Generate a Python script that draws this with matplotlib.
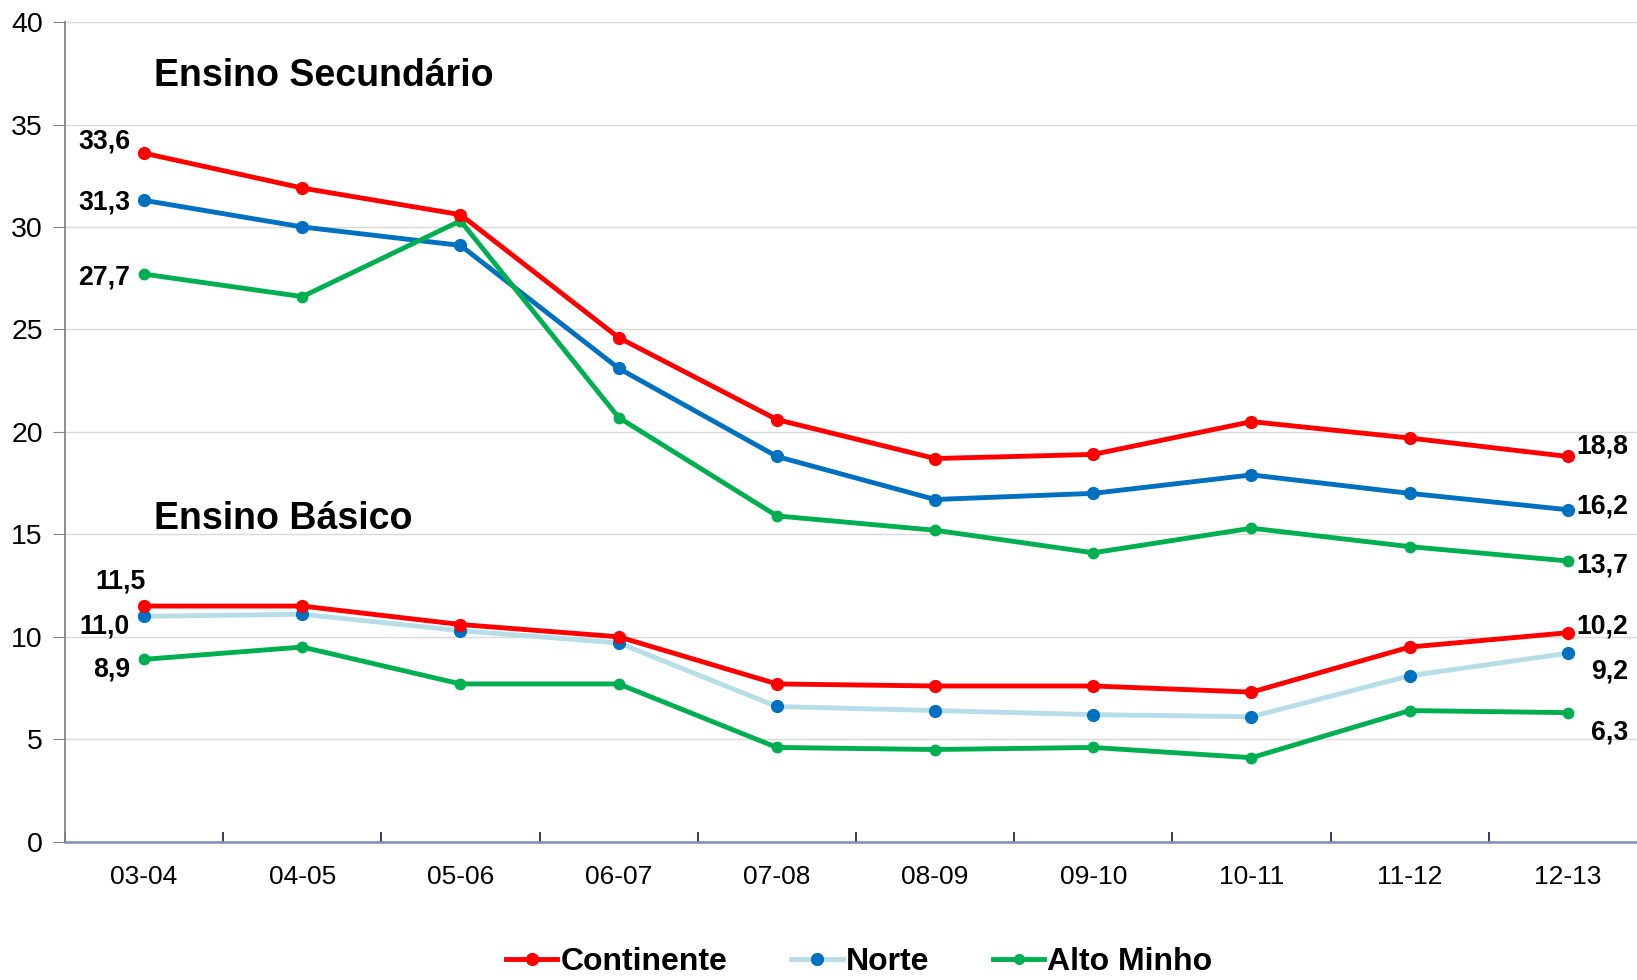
import numpy as np
import matplotlib
matplotlib.use('Agg')
import matplotlib.pyplot as plt
from matplotlib.lines import Line2D

plt.rcParams['font.family'] = ['Liberation Sans', 'DejaVu Sans']

# --- School years
years = ['03-04', '04-05', '05-06', '06-07', '07-08', '08-09', '09-10', '10-11', '11-12', '12-13']

# --- Ensino Secundário
sec_continente = [33.6, 31.9, 30.6, 24.6, 20.6, 18.7, 18.9, 20.5, 19.7, 18.8]
sec_norte = [31.3, 30.0, 29.1, 23.1, 18.8, 16.7, 17.0, 17.9, 17.0, 16.2]
sec_alto_minho = [27.7, 26.6, 30.3, 20.7, 15.9, 15.2, 14.1, 15.3, 14.4, 13.7]

# --- Ensino Básico
bas_continente = [11.5, 11.5, 10.6, 10.0, 7.7, 7.6, 7.6, 7.3, 9.5, 10.2]
bas_norte = [11.0, 11.1, 10.3, 9.7, 6.6, 6.4, 6.2, 6.1, 8.1, 9.2]
bas_alto_minho = [8.9, 9.5, 7.7, 7.7, 4.6, 4.5, 4.6, 4.1, 6.4, 6.3]

RED = '#FF0000'
BLUE = '#0070C0'
LIGHT_BLUE = '#B7DEE8'
GREEN = '#00B050'

fig = plt.figure(figsize=(16.37, 9.8), dpi=100)
ax = fig.add_axes([0.0397, 0.1411, 0.9664, 0.8364])

x = np.arange(len(years))
lw = 3.5

ax.plot(x, sec_continente, color=RED, lw=lw, marker='o', ms=8.5, zorder=4)
ax.plot(x, sec_norte, color=BLUE, lw=lw, marker='o', ms=8.5, zorder=3)
ax.plot(x, sec_alto_minho, color=GREEN, lw=lw, marker='o', ms=7.5, zorder=3)

ax.plot(x, bas_continente, color=RED, lw=lw, marker='o', ms=8.5, zorder=4)
ax.plot(x, bas_norte, color=LIGHT_BLUE, lw=lw, marker='o', ms=8.5,
        markerfacecolor=BLUE, markeredgecolor=BLUE, zorder=3)
ax.plot(x, bas_alto_minho, color=GREEN, lw=lw, marker='o', ms=7.5, zorder=3)

# axes styling
ax.set_xlim(-0.5, len(years) - 0.5)
ax.set_ylim(0, 40)
ax.set_yticks(range(0, 41, 5))
ax.set_xticks(x)
ax.set_xticklabels(years)
ax.set_xticks(np.arange(-0.5, len(years), 1.0), minor=True)
ax.tick_params(axis='x', which='major', length=0, pad=17, labelsize=19)
ax.tick_params(axis='x', which='minor', length=7, direction='in', color='#1F2D5C', width=1.3)
ax.tick_params(axis='y', length=9, direction='out', color='#868686', labelsize=20.5, pad=7)
ax.grid(axis='y', color='#D9D9D9', lw=1)
ax.set_axisbelow(True)
for side in ['top', 'right']:
    ax.spines[side].set_visible(False)
ax.spines['left'].set_color('#868686')
ax.spines['left'].set_linewidth(1.3)
ax.spines['bottom'].set_color('#7F8FB0')
ax.spines['bottom'].set_linewidth(1.8)

# section titles
ax.text(0.06, 37.35, 'Ensino Secundário', fontsize=27, fontweight='bold', va='center')
ax.text(0.06, 15.75, 'Ensino Básico', fontsize=27, fontweight='bold', va='center')

# value labels at first and last year
def label(val, xi, dx, dy, ha):
    ax.annotate(f'{val:.1f}'.replace('.', ','), (xi, val), xytext=(dx, dy),
                textcoords='offset pixels', ha=ha, va='center',
                fontsize=19.2, fontweight='bold')

first, last = 0, len(years) - 1
label(sec_continente[first], first, -14, 12, 'right')
label(sec_norte[first], first, -14, -2, 'right')
label(sec_alto_minho[first], first, -14, -3, 'right')
label(bas_continente[first], first, -24, 25, 'center')
label(bas_norte[first], first, -14, -10, 'right')
label(bas_alto_minho[first], first, -14, -10, 'right')

label(sec_continente[last], last, 60, 10, 'right')
label(sec_norte[last], last, 60, 3, 'right')
label(sec_alto_minho[last], last, 60, -5, 'right')
label(bas_continente[last], last, 60, 6, 'right')
label(bas_norte[last], last, 60, -18, 'right')
label(bas_alto_minho[last], last, 60, -20, 'right')

# legend
handles = [
    Line2D([], [], color=RED, lw=lw, marker='o', ms=8.5),
    Line2D([], [], color=LIGHT_BLUE, lw=lw, marker='o', ms=8.5,
           markerfacecolor=BLUE, markeredgecolor=BLUE),
    Line2D([], [], color=GREEN, lw=lw, marker='o', ms=7),
]
fig.legend(handles, ['Continente', 'Norte', 'Alto Minho'], loc='center',
           bbox_to_anchor=(0.525, 0.018), ncol=3, frameon=False,
           prop={'weight': 'bold', 'size': 23},
           handlelength=1.6, handletextpad=0.1, columnspacing=2.0)

fig.savefig('out.png', dpi=100)
